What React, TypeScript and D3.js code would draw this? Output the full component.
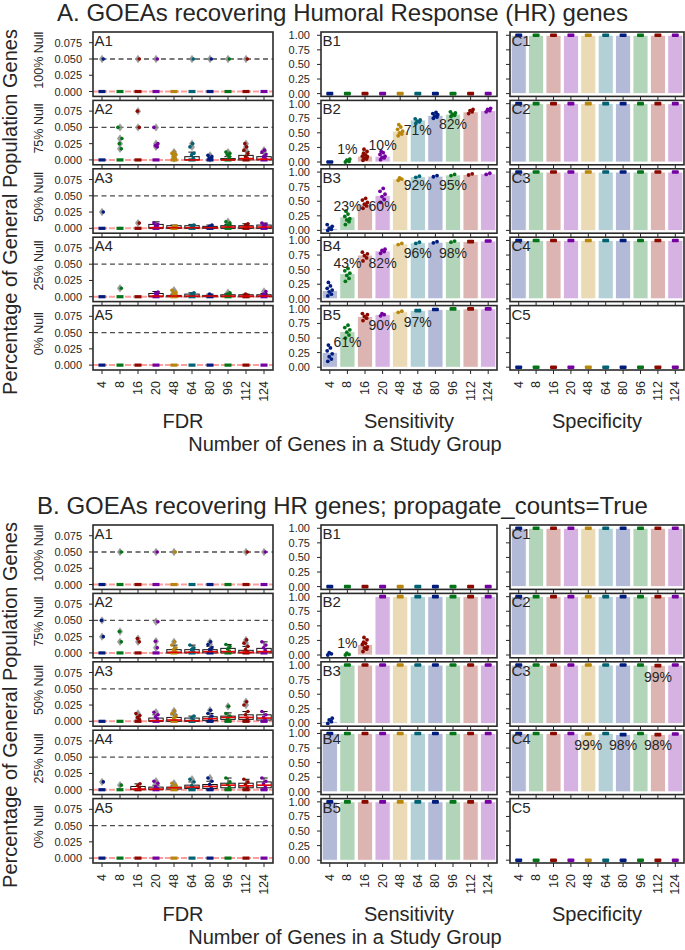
import React from "react";
import * as d3 from "d3";

// ---------------- data ----------------
const CATEGORIES = ["4", "8", "16", "20", "48", "64", "80", "96", "112", "124"];
const NULL_LABELS = ["100% Null", "75% Null", "50% Null", "25% Null", "0% Null"];
const FDR_TICKS = [0, 0.025, 0.05, 0.075];
const RATE_TICKS = [0, 0.25, 0.5, 0.75, 1.0];
const FDR_ALPHA = 0.05;
const PALETTE = ["#001C7F", "#017517", "#8C0900", "#7600A1", "#B8860B", "#006374"];
const SECTION_TITLES = [
  "A. GOEAs recovering Humoral Response (HR) genes",
  "B. GOEAs recovering HR genes; propagate_counts=True",
];
const COLUMN_TITLES = ["FDR", "Sensitivity", "Specificity"];
const X_TITLE = "Number of Genes in a Study Group";
const Y_TITLE = "Percentage of General Population Genes";

// FDR points per row (A1..A5) per category
const fdrPtsTop = [
  [[0, 0.05], [0], [0, 0.05], [0, 0.05], [0], [0, 0.05], [0, 0.05], [0, 0.05], [0, 0.05], [0]],
  [[0], [0, 0.017, 0.025, 0.033, 0.05], [0, 0.05, 0.075], [0, 0.02, 0.022, 0.025, 0.05], [0, 0.002, 0.005, 0.008, 0.01, 0.012], [0, 0.003, 0.008, 0.01, 0.02, 0.025], [0, 0.002, 0.003, 0.005, 0.007], [0, 0.005, 0.008, 0.01, 0.012], [0, 0.003, 0.005, 0.01, 0.015, 0.02, 0.025], [0, 0.002, 0.005, 0.008, 0.012, 0.015]],
  [[0, 0.025], [0], [0, 0.008], [0, 0.002, 0.004, 0.006, 0.008], [0, 0.002, 0.003, 0.004], [0, 0.002, 0.004, 0.005], [0, 0.002, 0.003, 0.005], [0, 0.003, 0.005, 0.008, 0.01], [0, 0.003, 0.005, 0.007], [0, 0.002, 0.004, 0.006, 0.008]],
  [[0], [0, 0.013], [0], [0, 0.003, 0.005, 0.007], [0, 0.003, 0.005, 0.007, 0.01], [0, 0.002, 0.004, 0.006], [0, 0.002, 0.004], [0, 0.002, 0.004, 0.006], [0, 0.002, 0.004], [0, 0.002, 0.004, 0.008]],
  [[0], [0], [0], [0], [0], [0], [0], [0], [0], [0]],
];
// boxes: [q1, median, q3, upper whisker]
const fdrBoxTop = [
  [null, null, null, null, null, null, null, null, null, null],
  [null, null, null, null, null, [0, 0, 0.005, 0.012], null, [0, 0, 0.002, 0.005], [0, 0.002, 0.007, 0.013], [0, 0.001, 0.005, 0.01]],
  [null, null, null, [0, 0.001, 0.006, 0.01], [0, 0.001, 0.004, 0.005], [0, 0.001, 0.004, 0.006], [0, 0.001, 0.003, 0.005], [0, 0.002, 0.004, 0.006], [0, 0.002, 0.004, 0.007], [0, 0.002, 0.005, 0.008]],
  [null, null, null, [0, 0.001, 0.005, 0.008], [0, 0.001, 0.002, 0.004], [0, 0.001, 0.004, 0.006], [0, 0.001, 0.002, 0.004], [0, 0.001, 0.003, 0.005], [0, 0.001, 0.003, 0.004], [0, 0.001, 0.003, 0.005]],
  [null, null, null, null, null, null, null, null, null, null],
];
const fdrPtsBottom = [
  [[0], [0, 0.05], [0], [0, 0.05], [0, 0.05], [0], [0], [0], [0, 0.05], [0, 0.05]],
  [[0, 0.025, 0.05], [0, 0.017, 0.033], [0, 0.017, 0.022], [0, 0.008, 0.018, 0.048], [0, 0.002, 0.005, 0.008, 0.012, 0.017], [0, 0.002, 0.005, 0.008, 0.012], [0, 0.002, 0.005, 0.008, 0.013, 0.017], [0, 0.003, 0.006, 0.01, 0.013], [0, 0.002, 0.005, 0.01, 0.015, 0.02], [0, 0.004, 0.008, 0.012, 0.017]],
  [[0], [0], [0, 0.003, 0.006, 0.009, 0.012], [0, 0.004, 0.007, 0.01, 0.014], [0, 0.002, 0.005, 0.008, 0.012, 0.016], [0, 0.002, 0.005, 0.008], [0, 0.002, 0.004, 0.008, 0.012, 0.017], [0, 0.002, 0.005, 0.008, 0.012, 0.023], [0, 0.005, 0.01, 0.015, 0.025, 0.03], [0, 0.003, 0.006, 0.01, 0.015]],
  [[0, 0.012], [0, 0.007], [0, 0.003, 0.006, 0.009], [0, 0.002, 0.005, 0.01, 0.013], [0, 0.002, 0.004, 0.007, 0.01], [0, 0.003, 0.006, 0.012, 0.016], [0, 0.004, 0.008, 0.013, 0.018], [0, 0.004, 0.008, 0.012, 0.018], [0, 0.004, 0.008, 0.012, 0.016], [0, 0.004, 0.009, 0.013, 0.018]],
  [[0], [0], [0], [0], [0], [0], [0], [0], [0], [0]],
];
const fdrBoxBottom = [
  [null, null, null, null, null, null, null, null, null, null],
  [null, null, null, null, [0, 0.001, 0.005, 0.012], [0, 0.001, 0.005, 0.012], [0, 0.002, 0.005, 0.01], [0, 0.002, 0.007, 0.013], [0, 0.001, 0.004, 0.01], [0, 0.002, 0.007, 0.017]],
  [null, null, null, [0, 0.001, 0.005, 0.01], [0, 0.002, 0.006, 0.01], [0, 0.001, 0.005, 0.008], [0.001, 0.004, 0.007, 0.012], [0.003, 0.006, 0.008, 0.013], [0.003, 0.006, 0.01, 0.015], [0.002, 0.005, 0.01, 0.015]],
  [null, null, [0, 0.001, 0.005, 0.009], [0, 0.001, 0.004, 0.007], [0.001, 0.003, 0.004, 0.006], [0.002, 0.004, 0.007, 0.012], [0.002, 0.005, 0.008, 0.013], [0.003, 0.007, 0.01, 0.018], [0.003, 0.006, 0.01, 0.016], [0.003, 0.007, 0.012, 0.018]],
  [null, null, null, null, null, null, null, null, null, null],
];

// Sensitivity: bar means and individual points
const sensMeansTop = [
  [0, 0, 0, 0, 0, 0, 0, 0, 0, 0],
  [0, 0.01, 0.1, 0.1, 0.53, 0.72, 0.8, 0.82, 0.86, 0.88],
  [0.03, 0.23, 0.45, 0.6, 0.88, 0.92, 0.93, 0.95, 0.96, 0.97],
  [0.14, 0.43, 0.75, 0.82, 0.94, 0.96, 0.97, 0.98, 0.98, 0.99],
  [0.25, 0.61, 0.87, 0.9, 0.95, 0.97, 0.99, 0.99, 1.0, 1.0],
];
const sensPtsTop = [
  [[0], [0], [0], [0], [0], [0], [0], [0], [0], [0]],
  [[0], [0, 0.01, 0.03, 0.05], [0.03, 0.05, 0.06, 0.09, 0.1, 0.12, 0.15, 0.18, 0.22], [0.04, 0.07, 0.08, 0.1, 0.13, 0.16, 0.18], [0.45, 0.48, 0.5, 0.53, 0.56, 0.6, 0.64], [0.66, 0.69, 0.7, 0.72, 0.74], [0.75, 0.77, 0.79, 0.81, 0.83, 0.85], [0.78, 0.8, 0.82, 0.84, 0.86], [0.83, 0.86, 0.88, 0.9], [0.86, 0.88, 0.9, 0.92]],
  [[0, 0.02, 0.04, 0.07, 0.1], [0.1, 0.15, 0.18, 0.2, 0.24, 0.28, 0.33], [0.38, 0.42, 0.45, 0.48, 0.52, 0.55], [0.48, 0.53, 0.58, 0.62, 0.67, 0.72], [0.86, 0.88, 0.9], [0.91, 0.93], [0.92, 0.94], [0.94, 0.96], [0.95, 0.97], [0.96, 0.98]],
  [[0.05, 0.08, 0.12, 0.15, 0.18, 0.22, 0.28], [0.3, 0.35, 0.4, 0.44, 0.48, 0.52], [0.65, 0.7, 0.74, 0.77, 0.8], [0.78, 0.81, 0.83, 0.85], [0.93, 0.95], [0.95, 0.97], [0.96, 0.98], [0.97, 0.99], [0.98], [0.99]],
  [[0.1, 0.14, 0.18, 0.23, 0.28, 0.33, 0.38], [0.5, 0.55, 0.6, 0.64, 0.68, 0.72], [0.8, 0.84, 0.87, 0.9, 0.92], [0.88, 0.9, 0.92], [0.94, 0.96], [0.97], [0.99], [1.0], [1.0], [1.0]],
];
const sensLabelsTop = [
  [],
  [[1, "1%", 0.22], [3, "10%", 0.29], [5, "71%", 0.55], [7, "82%", 0.65]],
  [[1, "23%", 0.42], [3, "60%", 0.42], [5, "92%", 0.77], [7, "95%", 0.77]],
  [[1, "43%", 0.62], [3, "82%", 0.62], [5, "96%", 0.78], [7, "98%", 0.78]],
  [[1, "61%", 0.43], [3, "90%", 0.73], [5, "97%", 0.78]],
];
const sensMeansBottom = [
  [0, 0, 0, 0, 0, 0, 0, 0, 0, 0],
  [0.005, 0.01, 0.18, 1, 1, 1, 1, 1, 1, 1],
  [0.03, 1, 1, 1, 1, 1, 1, 1, 1, 1],
  [1, 1, 1, 1, 1, 1, 1, 1, 1, 1],
  [1, 1, 1, 1, 1, 1, 1, 1, 1, 1],
];
const sensPtsBottom = [
  [[0], [0], [0], [0], [0], [0], [0], [0], [0], [0]],
  [[0, 0.02, 0.04], [0, 0.01, 0.03], [0.06, 0.1, 0.12, 0.14, 0.18, 0.2, 0.22, 0.26, 0.3], [1], [1], [1], [1], [1], [1], [1]],
  [[0, 0.03, 0.06, 0.09], [1], [1], [1], [1], [1], [1], [1], [1], [1]],
  [[1], [1], [1], [1], [1], [1], [1], [1], [1], [1]],
  [[1], [1], [1], [1], [1], [1], [1], [1], [1], [1]],
];
const sensLabelsBottom = [[], [[1, "1%", 0.2]], [], [], []];

// Specificity
const specMeansTop = [
  [1, 1, 1, 1, 1, 1, 1, 1, 1, 1],
  [1, 1, 1, 1, 1, 1, 1, 1, 1, 1],
  [1, 1, 1, 1, 1, 1, 1, 1, 1, 1],
  [1, 1, 1, 1, 1, 1, 1, 1, 1, 1],
  [0, 0, 0, 0, 0, 0, 0, 0, 0, 0],
];
const specMeansBottom = [
  [1, 1, 1, 1, 1, 1, 1, 1, 1, 1],
  [1, 1, 1, 1, 1, 1, 1, 1, 1, 1],
  [1, 1, 1, 1, 1, 1, 1, 1, 0.99, 1],
  [1, 1, 1, 1, 0.99, 1, 0.98, 1, 0.98, 0.99],
  [0, 0, 0, 0, 0, 0, 0, 0, 0, 0],
];
const specLabelsTop = [[], [], [], [], []];
const specLabelsBottom = [[], [], [[8, "99%", 0.8]], [[4, "99%", 0.8], [6, "98%", 0.8], [8, "98%", 0.8]], []];

// ---------------- layout / style ----------------
const W = 685;
const H = 950;
const FONT = "'Liberation Sans', Arial, Helvetica, sans-serif";
const INK = "#262626";
const COLS = [
  { x0: 93, x1: 273 },
  { x0: 321, x1: 497 },
  { x0: 510, x1: 684 },
];
const SECTION_TOPS = [32, 525];
const PANEL_H = 64.4;
const PITCH = 68.4;
const JITTER = [-2, 1.6, -0.6, 2.4, -2.6, 0.6, -1.4, 2, -1, 1.2, -2.2, 0.2];

function colorOf(i: number) {
  return PALETTE[i % PALETTE.length];
}

function Frame({ x0, x1, top }: any) {
  return (
    <rect x={x0} y={top} width={x1 - x0} height={PANEL_H} fill="none" stroke="#2a2a2a" strokeWidth={1.6} />
  );
}

function XTicks({ xs, top }: any) {
  const b = top + PANEL_H;
  return (
    <g>
      {CATEGORIES.map((c) => (
        <line key={c} x1={xs(c)! + xs.bandwidth() / 2} x2={xs(c)! + xs.bandwidth() / 2} y1={b} y2={b + 4} stroke={INK} strokeWidth={1} />
      ))}
    </g>
  );
}

function YAxis({ y, ticks, x0, labels, fmt }: any) {
  return (
    <g>
      {ticks.map((t: number) => (
        <g key={t}>
          <line x1={x0 - 4} x2={x0} y1={y(t)} y2={y(t)} stroke={INK} strokeWidth={1} />
          {labels && (
            <text x={x0 - 11} y={y(t)} textAnchor="end" dominantBaseline="central" fontSize={11} fill={INK}>
              {fmt(t)}
            </text>
          )}
        </g>
      ))}
    </g>
  );
}

function Diamond({ cx, cy }: any) {
  return <path d={`M${cx},${cy - 4.2}L${cx + 3},${cy}L${cx},${cy + 4.2}L${cx - 3},${cy}Z`} fill="#8c8c8c" opacity={0.85} />;
}

function FdrPanel({ top, pts, boxes, label }: any) {
  const { x0, x1 } = COLS[0];
  const xs = d3.scaleBand().domain(CATEGORIES).range([x0, x1]);
  const y = d3.scaleLinear().domain([-0.0075, 0.0915]).range([top + PANEL_H, top]);
  const bw = xs.bandwidth();
  const fmt = d3.format(".3f");
  return (
    <g>
      <line x1={x0} x2={x1} y1={y(FDR_ALPHA)} y2={y(FDR_ALPHA)} stroke="#4d4d4d" strokeWidth={1.3} strokeDasharray="5,3.5" />
      <line x1={x0} x2={x1} y1={y(0)} y2={y(0)} stroke="#ff5a5a" strokeOpacity={0.6} strokeWidth={2} strokeDasharray="6,2" />
      {CATEGORIES.map((c, i) => {
        const cx = xs(c)! + bw / 2;
        const box = boxes[i];
        const col = colorOf(i);
        const vals: number[] = pts[i];
        const lo = d3.min(vals) ?? 0;
        return (
          <g key={c}>
            {box && (
              <g>
                <line x1={cx} x2={cx} y1={y(box[2])} y2={y(box[3])} stroke="#111" strokeWidth={1} />
                <line x1={cx - bw * 0.2} x2={cx + bw * 0.2} y1={y(box[3])} y2={y(box[3])} stroke="#111" strokeWidth={1} />
                {box[0] > lo && <line x1={cx} x2={cx} y1={y(box[0])} y2={y(lo)} stroke="#111" strokeWidth={1} />}
                {box[0] > lo && <line x1={cx - bw * 0.2} x2={cx + bw * 0.2} y1={y(lo)} y2={y(lo)} stroke="#111" strokeWidth={1} />}
                <rect x={cx - bw * 0.4} y={y(box[2])} width={bw * 0.8} height={Math.max(1, y(box[0]) - y(box[2]))} fill="#fff" fillOpacity={0.6} stroke="#111" strokeWidth={1} />
              </g>
            )}
            {vals.map((v, k) =>
              v > 0 && (!box || v > box[3]) ? <Diamond key={"d" + k} cx={cx} cy={y(v)} /> : null
            )}
            {vals.map((v, k) =>
              v === 0 ? (
                <rect key={k} x={cx - 3.5} y={y(0) - 1.6} width={7} height={3.2} fill={col} />
              ) : (
                <circle key={k} cx={cx + JITTER[k % JITTER.length] * 0.8} cy={y(v)} r={1.8} fill={col} />
              )
            )}
            {box && <line x1={cx - bw * 0.4} x2={cx + bw * 0.4} y1={y(box[1])} y2={y(box[1])} stroke="#e00000" strokeWidth={1.6} />}
          </g>
        );
      })}
      <YAxis y={y} ticks={FDR_TICKS} x0={x0} labels fmt={fmt} />
      <XTicks xs={xs} top={top} />
      <Frame x0={x0} x1={x1} top={top} />
      <text x={x0 + 1.5} y={top + 14} fontSize={15} fill={INK}>{label}</text>
    </g>
  );
}

function RatePanel({ col, top, means, pts, labels, panelLabel }: any) {
  const { x0, x1 } = COLS[col];
  const xs = d3.scaleBand().domain(CATEGORIES).range([x0, x1]);
  const y = d3.scaleLinear().domain([-0.048, 1.056]).range([top + PANEL_H, top]);
  const bw = xs.bandwidth();
  const fmt = d3.format(".2f");
  return (
    <g>
      {CATEGORIES.map((c, i) => {
        const cx = xs(c)! + bw / 2;
        const m = means[i];
        const clr = colorOf(i);
        const vals: number[] = pts[i];
        return (
          <g key={c}>
            {m > 0 && (
              <rect x={cx - bw * 0.43} y={y(m)} width={bw * 0.86} height={y(0) - y(m)} fill={clr} fillOpacity={0.3} stroke="#fff" strokeWidth={0.8} />
            )}
            {vals.length === 1 ? (
              <rect x={cx - 3.5} y={y(vals[0]) - 1.8} width={7} height={3.6} rx={1} fill={clr} />
            ) : (
              vals.map((v, k) => (
                <circle key={k} cx={cx + JITTER[k % JITTER.length]} cy={y(v)} r={1.9} fill={clr} />
              ))
            )}
          </g>
        );
      })}
      {labels.map((l: any, k: number) => (
        <text key={k} x={xs(CATEGORIES[l[0]])! + bw / 2} y={y(l[2])} textAnchor="middle" dominantBaseline="central" fontSize={14} fill={INK}>
          {l[1]}
        </text>
      ))}
      <YAxis y={y} ticks={RATE_TICKS} x0={x0} labels={col === 1} fmt={fmt} />
      <XTicks xs={xs} top={top} />
      <Frame x0={x0} x1={x1} top={top} />
      <text x={x0 + 1.5} y={top + 14} fontSize={15} fill={INK}>{panelLabel}</text>
    </g>
  );
}

function Section({ idx, fdrPts, fdrBoxes, sensMeans, sensPts, sensLabels, specMeans, specLabels }: any) {
  const top0 = SECTION_TOPS[idx];
  const lastBottom = top0 + 4 * PITCH + PANEL_H;
  return (
    <g>
      <text x={W / 2} y={top0 - 11} textAnchor="middle" fontSize={24} fill={INK}>{SECTION_TITLES[idx]}</text>
      <text transform={`translate(17,${top0 + 180}) rotate(-90)`} textAnchor="middle" fontSize={20} fill={INK}>{Y_TITLE}</text>
      {NULL_LABELS.map((lab, r) => {
        const top = top0 + r * PITCH;
        return (
          <g key={r}>
            <text transform={`translate(43,${top + PANEL_H / 2 - 4}) rotate(-90)`} textAnchor="middle" fontSize={12.5} fill={INK}>{lab}</text>
            <FdrPanel top={top} pts={fdrPts[r]} boxes={fdrBoxes[r]} label={`A${r + 1}`} />
            <RatePanel col={1} top={top} means={sensMeans[r]} pts={sensPts[r]} labels={sensLabels[r]} panelLabel={`B${r + 1}`} />
            <RatePanel col={2} top={top} means={specMeans[r]} pts={specMeans[r].map((v: number) => [v])} labels={specLabels[r]} panelLabel={`C${r + 1}`} />
          </g>
        );
      })}
      {COLS.map((c, ci) => {
        const xs = d3.scaleBand().domain(CATEGORIES).range([c.x0, c.x1]);
        return (
          <g key={ci}>
            {CATEGORIES.map((cat) => (
              <text key={cat} transform={`translate(${xs(cat)! + xs.bandwidth() / 2},${lastBottom + 11}) rotate(-90)`} textAnchor="end" dominantBaseline="central" fontSize={12.5} fill={INK}>
                {cat}
              </text>
            ))}
            <text x={(c.x0 + c.x1) / 2} y={top0 + 396} textAnchor="middle" fontSize={20} fill={INK}>{COLUMN_TITLES[ci]}</text>
          </g>
        );
      })}
      <text x={345} y={top0 + 419} textAnchor="middle" fontSize={20} fill={INK}>{X_TITLE}</text>
    </g>
  );
}

export default function App() {
  return (
    <svg width={W} height={H} viewBox={`0 0 ${W} ${H}`} style={{ position: "absolute", left: 0, top: 0, background: "#fff" }} fontFamily={FONT}>
      <rect width={W} height={H} fill="#fff" />
      <Section idx={0} fdrPts={fdrPtsTop} fdrBoxes={fdrBoxTop} sensMeans={sensMeansTop} sensPts={sensPtsTop} sensLabels={sensLabelsTop} specMeans={specMeansTop} specLabels={specLabelsTop} />
      <Section idx={1} fdrPts={fdrPtsBottom} fdrBoxes={fdrBoxBottom} sensMeans={sensMeansBottom} sensPts={sensPtsBottom} sensLabels={sensLabelsBottom} specMeans={specMeansBottom} specLabels={specLabelsBottom} />
    </svg>
  );
}
